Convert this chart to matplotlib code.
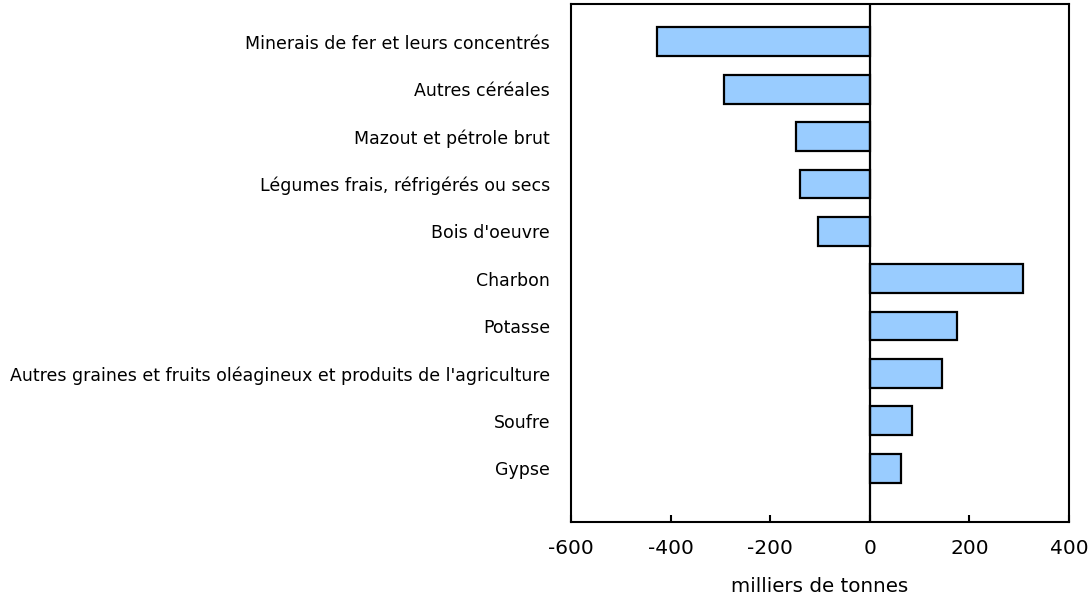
import matplotlib
matplotlib.use("Agg")
import matplotlib.pyplot as plt

# ── data ──────────────────────────────────────────────────────────────────────
categories = [
    "Minerais de fer et leurs concentrés",
    "Autres céréales",
    "Mazout et pétrole brut",
    "Légumes frais, réfrigérés ou secs",
    "Bois d'oeuvre",
    "Charbon",
    "Potasse",
    "Autres graines et fruits oléagineux et produits de l'agriculture",
    "Soufre",
    "Gypse",
]
values = [-428, -293, -148, -140, -104, 308, 176, 145, 85, 63]
x_ticks = [-600, -400, -200, 0, 200, 400]
x_label = "milliers de tonnes"

# ── plot ──────────────────────────────────────────────────────────────────────
plt.rcParams['font.family'] = ['DejaVu Sans']

fig = plt.figure(figsize=(10.9, 5.98), dpi=100)
ax = fig.add_axes([0.5239, 0.127, 0.9807 - 0.5239, 0.9933 - 0.127])

pos = list(range(len(categories)))
ax.barh(pos, values, height=0.61, color='#99CCFF', edgecolor='black',
        linewidth=1.6, zorder=2)
ax.axvline(0, color='black', linewidth=1.6, zorder=3)

ax.set_xlim(-600, 400)
ax.set_ylim(len(categories) - 1 + 1.14, -0.8)
ax.set_xticks(x_ticks)
ax.set_xticklabels([str(t) for t in x_ticks], fontsize=14.5)
ax.set_yticks(pos)
ax.set_yticklabels(categories, fontsize=12.55)
ax.tick_params(axis='y', length=0, pad=15)
ax.tick_params(axis='x', direction='in', length=5, width=1.5, pad=12)
ax.set_xlabel(x_label, fontsize=14.3, labelpad=14)

for s in ax.spines.values():
    s.set_linewidth(1.5)
    s.set_color('black')

fig.savefig("out.png", dpi=100)
